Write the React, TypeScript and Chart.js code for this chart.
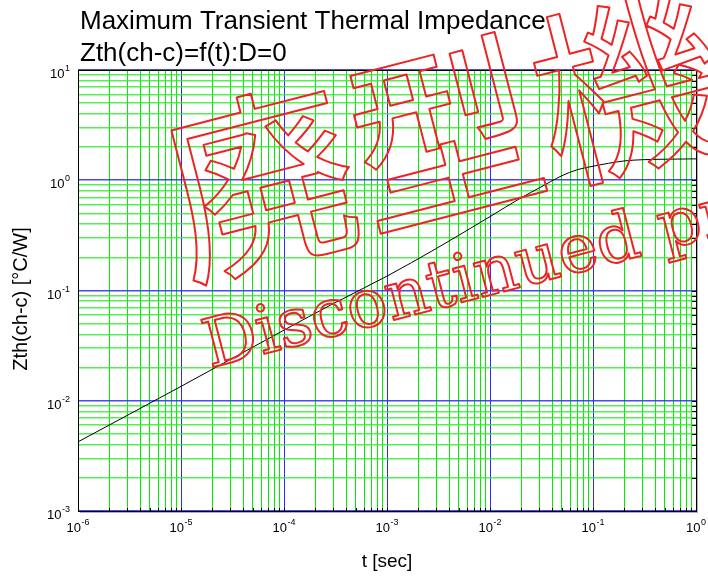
import React, { useEffect, useRef } from 'react';
import { Chart, registerables } from 'chart.js';

Chart.register(...registerables);

// ---- data ----
const timeSec = [1e-6, 1e-5, 1e-4, 3e-4, 1e-3, 3e-3, 1e-2, 2e-2, 3e-2, 5e-2, 7e-2, 0.1, 0.2, 0.3, 0.5, 1];
const zthValues = [0.00424, 0.0135, 0.0437, 0.0759, 0.135, 0.24, 0.468, 0.692, 0.851, 1.1, 1.245, 1.34, 1.496, 1.535, 1.552, 1.563];
const xDecades = [-6, -5, -4, -3, -2, -1, 0];
const yDecades = [-3, -2, -1, 0, 1];
const titleLines = ['Maximum Transient Thermal Impedance', 'Zth(ch-c)=f(t):D=0'];
const xAxisTitle = 't [sec]';
const yAxisTitle = 'Zth(ch-c) [°C/W]';
const watermarkJa = '廃型機';
const watermarkEn = 'Discontinued product';

const SANS = '"Liberation Sans", Arial, sans-serif';

const logTicks = (decs: number[]) => {
  const out: { value: number }[] = [];
  for (let i = 0; i < decs.length; i++) {
    const e = decs[i];
    if (i === decs.length - 1) {
      out.push({ value: Math.pow(10, e) });
      break;
    }
    for (let k = 1; k < 10; k++) out.push({ value: k * Math.pow(10, e) });
  }
  return out;
};

const isMajor = (v: number | undefined) => {
  if (v === undefined || v <= 0) return false;
  const l = Math.log10(v);
  return Math.abs(l - Math.round(l)) < 1e-6;
};

const drawPow = (ctx: CanvasRenderingContext2D, x: number, yBase: number, yExp: number, exp: number, align: 'center' | 'right') => {
  ctx.font = `13px ${SANS}`;
  const bw = ctx.measureText('10').width;
  ctx.font = `9px ${SANS}`;
  const es = String(exp);
  const ew = ctx.measureText(es).width;
  const total = bw + ew + 0.5;
  const left = align === 'center' ? x - total / 2 : x - total;
  ctx.textAlign = 'left';
  ctx.textBaseline = 'alphabetic';
  ctx.font = `13px ${SANS}`;
  ctx.fillText('10', left, yBase);
  ctx.font = `9px ${SANS}`;
  ctx.fillText(es, left + bw + 0.5, yExp);
};

const decorPlugin = {
  id: 'decor',
  afterDatasetsDraw(chart: any) {
    const { ctx, chartArea: a, scales } = chart;
    const xs = scales.x;
    const ys = scales.y;
    ctx.save();
    // tick marks
    ctx.strokeStyle = '#000';
    ctx.lineWidth = 1;
    ctx.beginPath();
    xs.ticks.forEach((t: any) => {
      const px = Math.round(xs.getPixelForValue(t.value)) + 0.5;
      ctx.moveTo(px, a.bottom);
      ctx.lineTo(px, a.bottom - 3);
    });
    ys.ticks.forEach((t: any) => {
      const py = Math.round(ys.getPixelForValue(t.value)) + 0.5;
      ctx.moveTo(a.right, py);
      ctx.lineTo(a.right - 4, py);
    });
    ctx.stroke();
    // frame
    ctx.strokeStyle = '#000';
    ctx.strokeRect(Math.round(a.left) + 0.5, Math.round(a.top) + 0.5, Math.round(a.right - a.left), Math.round(a.bottom - a.top));
    ctx.strokeStyle = '#b0b0b0';
    ctx.beginPath();
    ctx.moveTo(Math.round(a.right) + 1.5, a.top + 2);
    ctx.lineTo(Math.round(a.right) + 1.5, a.bottom + 2);
    ctx.moveTo(a.left + 2, Math.round(a.bottom) + 1.5);
    ctx.lineTo(a.right + 2, Math.round(a.bottom) + 1.5);
    ctx.stroke();

    // tick labels
    ctx.fillStyle = '#000';
    xDecades.forEach((e) => {
      const px = xs.getPixelForValue(Math.pow(10, e));
      drawPow(ctx, px, a.bottom + 21, a.bottom + 14, e, 'center');
    });
    yDecades.forEach((e) => {
      const py = ys.getPixelForValue(Math.pow(10, e));
      drawPow(ctx, a.left - 8, py + 8, py + 1, e, 'right');
    });

    // axis titles
    ctx.textAlign = 'center';
    ctx.textBaseline = 'alphabetic';
    ctx.font = `19px ${SANS}`;
    ctx.fillText(xAxisTitle, (a.left + a.right) / 2, 567);
    ctx.save();
    ctx.translate(27, 299);
    ctx.rotate(-Math.PI / 2);
    ctx.font = `20px ${SANS}`;
    ctx.fillText(yAxisTitle, 0, 0);
    ctx.restore();

    // chart title
    ctx.font = `26px ${SANS}`;
    ctx.textAlign = 'left';
    ctx.fillText(titleLines[0], 80, 29);
    ctx.fillText(titleLines[1], 80, 61);
    ctx.restore();
  },
  afterDraw(chart: any) {
    const { ctx } = chart;
    ctx.save();
    ctx.strokeStyle = '#ee2424';
    ctx.lineWidth = 2;
    ctx.lineJoin = 'round';
    ctx.save();
    ctx.translate(444, 134);
    ctx.rotate((-14.5 * Math.PI) / 180);
    ctx.font = '190px "Noto Sans CJK JP"';
    ctx.textAlign = 'center';
    ctx.textBaseline = 'middle';
    ctx.strokeText(watermarkJa, 0, 0);
    ctx.restore();
    ctx.save();
    ctx.translate(210, 368);
    ctx.rotate((-14.6 * Math.PI) / 180);
    ctx.font = '67px "DejaVu Serif"';
    ctx.textAlign = 'left';
    ctx.textBaseline = 'alphabetic';
    ctx.strokeText(watermarkEn, 0, 0);
    ctx.restore();
    ctx.restore();
  },
};

export default function App() {
  const ref = useRef<HTMLCanvasElement | null>(null);
  useEffect(() => {
    if (!ref.current) return;
    const chart = new Chart(ref.current, {
      type: 'line',
      data: {
        datasets: [
          {
            data: timeSec.map((t, i) => ({ x: t, y: zthValues[i] })),
            borderColor: '#000',
            borderWidth: 1,
            pointRadius: 0,
            cubicInterpolationMode: 'monotone',
            fill: false,
          },
        ],
      },
      options: {
        animation: false,
        responsive: false,
        devicePixelRatio: 1,
        layout: { padding: { left: 78, top: 70, right: 12, bottom: 66 } },
        plugins: { legend: { display: false }, tooltip: { enabled: false }, title: { display: false } },
        scales: {
          x: {
            type: 'logarithmic',
            min: 1e-6,
            max: 1,
            afterBuildTicks: (s: any) => {
              s.ticks = logTicks(xDecades);
            },
            ticks: { display: false },
            border: { display: false },
            grid: {
              drawTicks: false,
              color: (c: any) => (isMajor(c.tick?.value) ? '#2a2aff' : '#00ee00'),
              lineWidth: 1,
            },
          },
          y: {
            type: 'logarithmic',
            min: 1e-3,
            max: 10,
            afterBuildTicks: (s: any) => {
              s.ticks = logTicks(yDecades);
            },
            ticks: { display: false },
            border: { display: false },
            grid: {
              drawTicks: false,
              color: (c: any) => (isMajor(c.tick?.value) ? 'rgba(40,40,255,0.85)' : 'rgba(40,235,40,0.8)'),
              lineWidth: 1.6,
            },
          },
        },
      },
      plugins: [decorPlugin],
    } as any);
    return () => chart.destroy();
  }, []);
  return (
    <div style={{ position: 'absolute', left: 0, top: 0, width: 708, height: 577, background: '#fff' }}>
      <canvas ref={ref} width={708} height={577} style={{ display: 'block', width: 708, height: 577 }} />
    </div>
  );
}
